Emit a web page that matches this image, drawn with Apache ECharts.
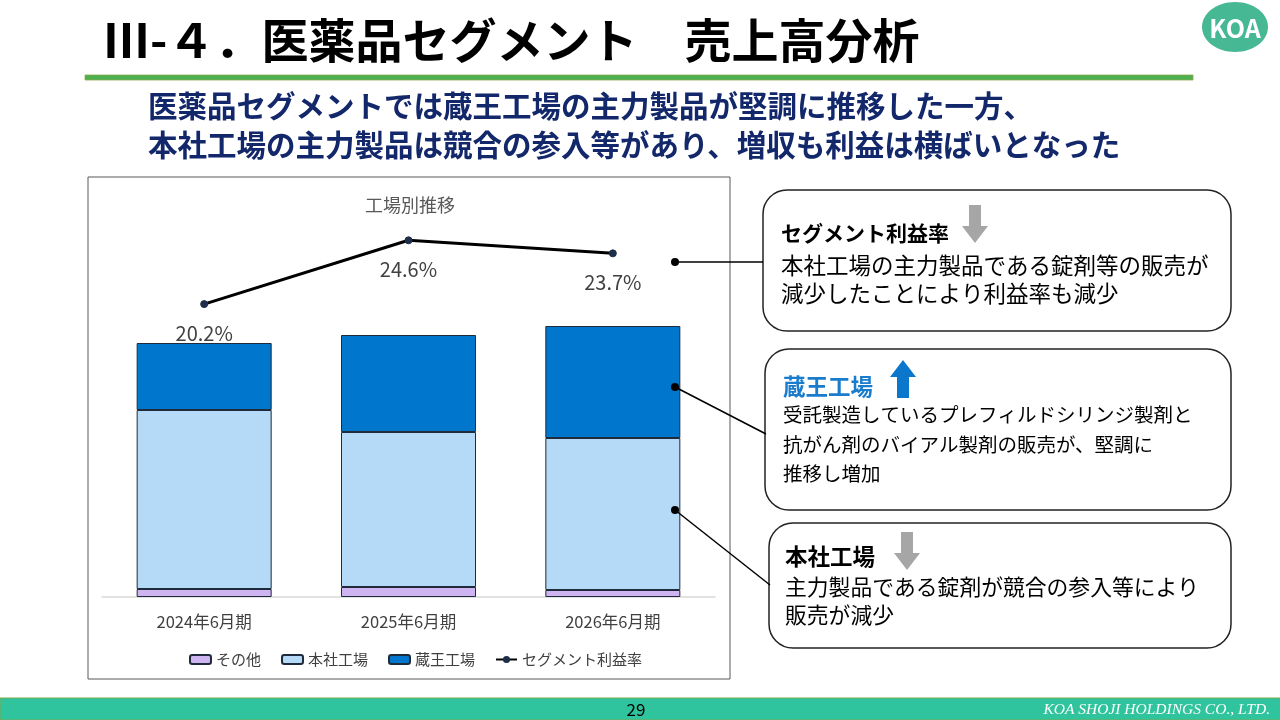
<!DOCTYPE html>
<html>
<head>
<meta charset="utf-8">
<script src="https://cdn.jsdelivr.net/npm/echarts@6/dist/echarts.min.js"></script>
<style>
  html, body { margin: 0; padding: 0; background: #fff; }
  #slide { width: 1280px; height: 720px; }
</style>
</head>
<body>
<div id="slide"></div>
<script>
// ---------- データ ----------
const categories = ['2024年6月期', '2025年6月期', '2026年6月期'];
const sonota = [8, 10, 7];          // その他
const honsha = [179, 155, 152];     // 本社工場
const zao = [67, 97, 112];          // 蔵王工場
const riekiRitsu = [20.2, 24.6, 23.7]; // セグメント利益率(%)

const FONT = '"Noto Sans CJK JP", "Noto Sans", sans-serif';
const BORDER = '#1f2a3a';

// 矢印(装飾)
function arrow(x, top, h, down, color) {
  const hw = 13, sw = 6, hh = 17;
  let pts;
  if (down) {
    pts = [[x - sw, top], [x + sw, top], [x + sw, top + h - hh], [x + hw, top + h - hh],
           [x, top + h], [x - hw, top + h - hh], [x - sw, top + h - hh]];
  } else {
    pts = [[x - sw, top + h], [x + sw, top + h], [x + sw, top + hh], [x + hw, top + hh],
           [x, top], [x - hw, top + hh], [x - sw, top + hh]];
  }
  return { type: 'polygon', shape: { points: pts }, style: { fill: color }, z: 5 };
}
function txt(x, y, text, size, color, weight, align) {
  return {
    type: 'text', z: 10,
    style: {
      x: x, y: y, text: text, fill: color,
      font: (weight || 'normal') + ' ' + size + 'px ' + FONT,
      align: align || 'left', verticalAlign: 'middle'
    }
  };
}
function box(x, y, w, h) {
  return {
    type: 'rect', z: 2,
    shape: { x: x, y: y, width: w, height: h, r: 24 },
    style: { fill: '#fff', stroke: '#222', lineWidth: 1.5 }
  };
}
function connector(x1, y1, x2, y2) {
  return [
    { type: 'line', z: 20, shape: { x1: x1, y1: y1, x2: x2, y2: y2 }, style: { stroke: '#000', lineWidth: 1.5 } },
    { type: 'circle', z: 21, shape: { cx: x1, cy: y1, r: 4 }, style: { fill: '#000' } }
  ];
}

const graphics = [
  // 背景(グラフ枠)
  { type: 'rect', z: -10, shape: { x: 88, y: 177, width: 642, height: 502 },
    style: { fill: '#fff', stroke: '#595959', lineWidth: 1 } },
  // タイトル
  txt(103, 40, 'Ⅲ-４．医薬品セグメント　売上高分析', 47, '#000', 'bold'),
  { type: 'ellipse', shape: { cx: 1235, cy: 27, rx: 33, ry: 25 }, style: { fill: '#47b894' } },
  txt(1235, 28, 'KOA', 25, '#fff', 'bold', 'center'),
  { type: 'rect', shape: { x: 85, y: 75, width: 1108, height: 5 }, style: { fill: '#4cb050', stroke: '#8aa84a', lineWidth: 0.8 } },
  txt(148, 106, '医薬品セグメントでは蔵王工場の主力製品が堅調に推移した一方、', 29.5, '#13276b', 'bold'),
  txt(148, 145, '本社工場の主力製品は競合の参入等があり、増収も利益は横ばいとなった', 29.5, '#13276b', 'bold'),
  // グラフタイトル
  txt(410, 205, '工場別推移', 18, '#595959', 'normal', 'center'),
  // 吹き出し
  box(763, 190, 468, 141),
  txt(781, 233, 'セグメント利益率', 21, '#000', 'bold'),
  arrow(975, 205, 38, true, '#a6a6a6'),
  txt(781, 265, '本社工場の主力製品である錠剤等の販売が', 22.5, '#000'),
  txt(781, 293, '減少したことにより利益率も減少', 22.5, '#000'),

  box(765, 349, 466, 161),
  txt(783, 386, '蔵王工場', 22.5, '#1a7ccc', 'bold'),
  arrow(903, 360, 38, false, '#0a77cc'),
  txt(783, 415, '受託製造しているプレフィルドシリンジ製剤と', 19.5, '#000'),
  txt(783, 445, '抗がん剤のバイアル製剤の販売が、堅調に', 19.5, '#000'),
  txt(783, 474, '推移し増加', 19.5, '#000'),

  box(769, 523, 462, 125),
  txt(785, 556, '本社工場', 22.5, '#000', 'bold'),
  arrow(907, 532, 38, true, '#a6a6a6'),
  txt(785, 587, '主力製品である錠剤が競合の参入等により', 21.8, '#000'),
  txt(785, 615, '販売が減少', 21.8, '#000'),

  ...connector(675, 262, 763, 262),
  ...connector(675, 387, 766, 434),
  ...connector(675, 510, 770, 585),

  // フッター
  { type: 'rect', shape: { x: 0, y: 698, width: 1280, height: 22 }, style: { fill: '#2fc49d', stroke: '#7aa850', lineWidth: 1 } },
  txt(636, 710, '29', 17, '#000', 'normal', 'center'),
  { type: 'text', z: 10, style: { x: 1270, y: 710, text: 'KOA SHOJI HOLDINGS CO., LTD.', fill: '#fff',
      font: 'italic 15.5px "Liberation Serif", serif', align: 'right', verticalAlign: 'middle' } }
];

const chart = echarts.init(document.getElementById('slide'));
chart.setOption({
  animation: false,
  textStyle: { fontFamily: FONT },
  grid: { left: 102, right: 565, top: 162, bottom: 123 },
  legend: {
    left: 184, top: 647,
    itemWidth: 21, itemHeight: 9, itemGap: 20,
    textStyle: { fontSize: 15, color: '#404040', fontFamily: FONT },
    data: ['その他', '本社工場', '蔵王工場', 'セグメント利益率']
  },
  xAxis: {
    type: 'category', data: categories,
    axisLine: { lineStyle: { color: '#d9d9d9', width: 1.5 } },
    axisTick: { show: false },
    axisLabel: { fontSize: 16.5, color: '#404040', margin: 16 }
  },
  yAxis: [
    { type: 'value', min: 0, max: 435, show: false },
    { type: 'value', min: 0, max: 30, show: false }
  ],
  series: [
    { name: 'その他', type: 'bar', stack: 'f', barWidth: 135, data: sonota,
      itemStyle: { color: '#cfb4f2', borderColor: BORDER, borderWidth: 1 } },
    { name: '本社工場', type: 'bar', stack: 'f', data: honsha,
      itemStyle: { color: '#b4daf7', borderColor: BORDER, borderWidth: 1 } },
    { name: '蔵王工場', type: 'bar', stack: 'f', data: zao,
      itemStyle: { color: '#0077cc', borderColor: BORDER, borderWidth: 1 } },
    { name: 'セグメント利益率', type: 'line', yAxisIndex: 1, data: riekiRitsu,
      symbol: 'circle', symbolSize: 7,
      lineStyle: { color: '#000', width: 3 },
      itemStyle: { color: '#1c2e4a', borderColor: '#1c2e4a' },
      label: { show: true, position: 'bottom', distance: 15, fontSize: 20, color: '#404040',
               formatter: p => p.value.toFixed(1) + '%' } }
  ],
  graphic: graphics
});
</script>
</body>
</html>
